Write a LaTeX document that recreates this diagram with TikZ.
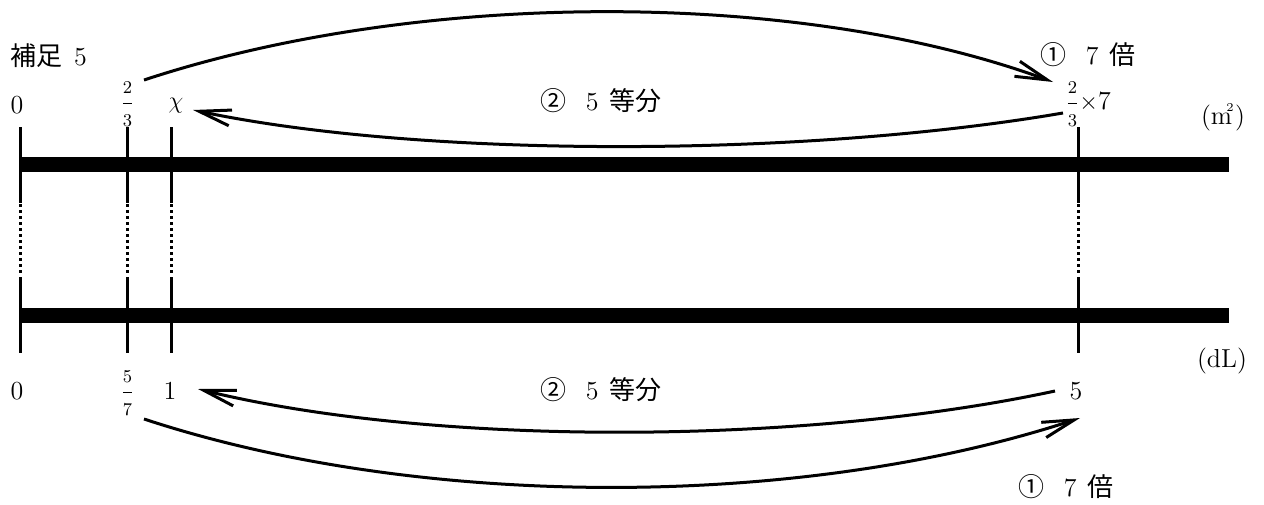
\documentclass[tikz,border=0pt]{standalone}
\usepackage{fontspec}
\newfontfamily\jp{Noto Sans CJK JP}
\usetikzlibrary{arrows.meta}
\newcommand{\vfr}[2]{\ensuremath{{\displaystyle\frac{\scriptstyle #1}{\scriptstyle #2}}}}
\begin{document}
\begin{tikzpicture}[x=0.5pt,y=-0.5pt,
  lbl/.style={inner sep=0pt, font=\fontsize{13}{15}\selectfont},
  bar/.style={line width=7.5pt},
  tickline/.style={line width=1.5pt},
  dotline/.style={line width=1.5pt, dash pattern=on 1.5pt off 1.5pt},
  arcline/.style={line width=1.5pt, -{Straight Barb[length=16pt,width=8pt,line width=1.5pt]}}]
\useasboundingbox (0,0) rectangle (1264,504);
% bars
\draw[bar] (20,164.5) -- (1229,164.5);
\draw[bar] (20,315.5) -- (1229,315.5);
% ticks
\foreach \x in {20,127,171,1078}{
  \draw[tickline] (\x,127) -- (\x,203);
  \draw[dotline] (\x,204) -- (\x,275);
  \draw[tickline] (\x,277) -- (\x,353);
}
% top labels
\node[lbl, anchor=west] (hosoku) at (10,56) {{\jp 補足}\hspace{0.45em}5};
\node[lbl] (t0) at (17,105) {0};
\node[lbl] (t23) at (127.5,104) {\vfr{2}{3}};
\node[lbl] (tx) at (176,106) {$\chi$};
\node[lbl, anchor=west] (t237) at (1065,104) {\vfr{2}{3}${\times}$7};
\node[lbl] (m2) at (1223,117) {(m\kern-0.22em\raisebox{0.5em}{\fontsize{6}{6}\selectfont 2}\kern0.05em)};
\node[lbl, anchor=west] (top7) at (1040,55) {{\jp ①}\hspace{0.75em}7\hspace{0.4em}{\jp 倍}};
\node[lbl, anchor=west] (top5) at (540,101) {{\jp ②}\hspace{0.75em}5\hspace{0.4em}{\jp 等分}};
% bottom labels
\node[lbl] (b0) at (17,391) {0};
\node[lbl] (b57) at (127.5,393) {\vfr{5}{7}};
\node[lbl] (b1) at (170,391) {1};
\node[lbl] (b5) at (1076,391) {5};
\node[lbl] (dL) at (1222,361) {(dL)};
\node[lbl, anchor=west] (bot5) at (540,390) {{\jp ②}\hspace{0.75em}5\hspace{0.4em}{\jp 等分}};
\node[lbl, anchor=west] (bot7) at (1018,487) {{\jp ①}\hspace{0.75em}7\hspace{0.4em}{\jp 倍}};
% arcs
\coordinate (a1s) at (144,80);  \coordinate (a1e) at (1053,82);
\coordinate (a2s) at (1063,113); \coordinate (a2e) at (193,110);
\coordinate (a3s) at (1055,391); \coordinate (a3e) at (198,389);
\coordinate (a4s) at (144,419); \coordinate (a4e) at (1080,418);
\draw[arcline] (a1s) .. controls (420,-11) and (800,-11) .. (a1e);
\draw[arcline] (a2s) .. controls (800,158) and (420,158) .. (a2e);
\draw[arcline] (a3s) .. controls (800,446) and (430,446) .. (a3e);
\draw[arcline] (a4s) .. controls (420,510) and (800,510) .. (a4e);
\end{tikzpicture}
\end{document}
